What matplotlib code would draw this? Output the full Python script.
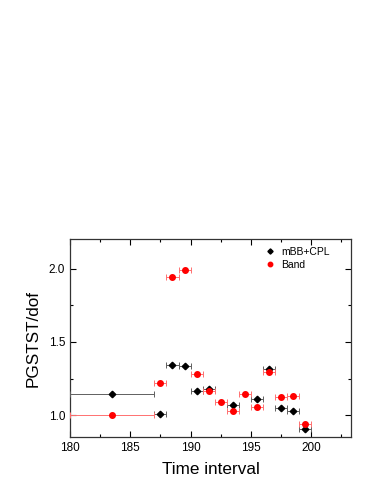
import numpy as np
import matplotlib.pyplot as plt
from matplotlib.ticker import MultipleLocator

plt.rcParams['font.family'] = ['Liberation Sans', 'DejaVu Sans']

# mBB+CPL fit
t_cpl = [183.5, 187.5, 188.5, 189.5, 190.5, 191.5, 193.5, 195.5, 196.5, 197.5, 198.5, 199.5]
dt_cpl = [3.5, 0.5, 0.5, 0.5, 0.5, 0.5, 0.5, 0.5, 0.5, 0.5, 0.5, 0.5]
pg_cpl = [1.142, 1.01, 1.342, 1.338, 1.169, 1.176, 1.07, 1.112, 1.313, 1.051, 1.027, 0.905]

# Band fit
t_band = [183.5, 187.5, 188.5, 189.5, 190.5, 191.5, 192.5, 193.5, 194.5, 195.5, 196.5, 197.5, 198.5, 199.5]
dt_band = [3.5, 0.5, 0.5, 0.5, 0.5, 0.5, 0.5, 0.5, 0.5, 0.5, 0.5, 0.5, 0.5, 0.5]
pg_band = [1.0, 1.223, 1.946, 1.99, 1.281, 1.164, 1.09, 1.031, 1.144, 1.056, 1.297, 1.124, 1.133, 0.943]

fig = plt.figure(figsize=(3.74, 4.84), dpi=100)
ax = fig.add_axes([0.187, 0.0965, 0.7515, 0.409])

ax.errorbar(t_cpl, pg_cpl, xerr=dt_cpl, fmt='D', color='black', ms=3.3,
            ecolor='#606060', elinewidth=0.7, capsize=2, capthick=0.7,
            label='mBB+CPL', zorder=3)
ax.errorbar(t_band, pg_band, xerr=dt_band, fmt='o', color='red', ms=4,
            ecolor='#ff7070', elinewidth=0.7, capsize=2, capthick=0.7,
            label='Band', zorder=4)

ax.set_xlim(180, 203.3)
ax.set_ylim(0.85, 2.2)
ax.xaxis.set_major_locator(MultipleLocator(5))
ax.xaxis.set_minor_locator(MultipleLocator(2.5))
ax.yaxis.set_major_locator(MultipleLocator(0.5))
ax.yaxis.set_minor_locator(MultipleLocator(0.25))
ax.tick_params(which='both', direction='in', top=True, right=True, labelsize=8.5, width=0.8)
ax.tick_params(which='major', length=4)
ax.tick_params(which='minor', length=2)
for s in ax.spines.values():
    s.set_linewidth(0.9)
    s.set_color('#333333')

ax.set_xlabel('Time interval', fontsize=12.3, labelpad=6)
ax.set_ylabel('PGSTST/dof', fontsize=12.3, labelpad=6)

handles, labels = ax.get_legend_handles_labels()
handles = [h[0] for h in handles]
ax.legend(handles, labels, loc='upper right', frameon=False, fontsize=7.5,
          markerscale=0.8, handlelength=1.0, handletextpad=0.6,
          borderaxespad=0.3, labelspacing=0.3, bbox_to_anchor=(0.95, 1.0))

fig.savefig('out.png', dpi=100)
